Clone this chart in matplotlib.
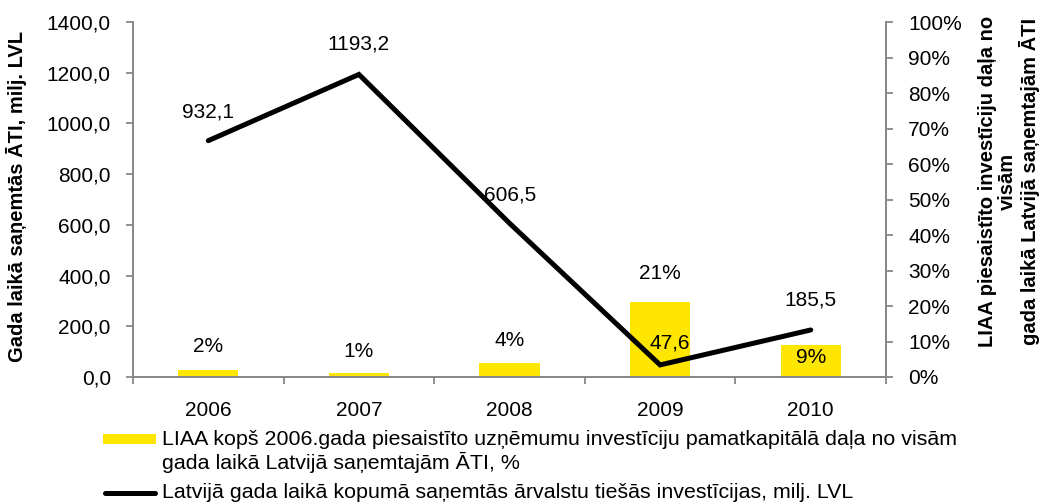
import matplotlib
matplotlib.use("Agg")
import matplotlib.pyplot as plt
from matplotlib.patches import Rectangle
from matplotlib.lines import Line2D

plt.rcParams['font.family'] = ['Liberation Sans', 'DejaVu Sans']

years = ["2006", "2007", "2008", "2009", "2010"]
fdi_total = [932.1, 1193.2, 606.5, 47.6, 185.5]     # milj. LVL, left axis
liaa_share = [2, 1, 4, 21, 9]                        # %, right axis

bar_label = "LIAA kopš 2006.gada piesaistīto uzņēmumu investīciju pamatkapitālā daļa no visām\ngada laikā Latvijā saņemtajām ĀTI, %"
line_label = "Latvijā gada laikā kopumā saņemtās ārvalstu tiešās investīcijas, milj. LVL"
left_title = "Gada laikā saņemtās ĀTI, milj. LVL"
right_title = "LIAA piesaistīto investīciju daļa no\nvisām\ngada laikā Latvijā saņemtajām ĀTI"

# label offsets in pixels (Excel put them a bit irregularly)
line_offsets = [(0, 29), (0, 30), (1, 28), (10, 22), (0, 30)]
bar_offsets = [(0, 23), (0, 22), (0, 22), (0, 29), (0, -12)]

YELLOW = "#FFE600"
GREY = "#888888"
FS = 15
W, H = 1048, 504

fig = plt.figure(figsize=(W / 100, H / 100), dpi=100)
ax = fig.add_axes([133 / W, 1 - 377 / H, 753 / W, 355 / H])
ax2 = ax.twinx()

x = list(range(len(years)))

# bars on the right (percent) axis, drawn behind the line
ax2.bar(x, liaa_share, width=0.4, color=YELLOW, zorder=1)
ax2.set_ylim(0, 100)
ax2.set_yticks(range(0, 101, 10))
ax2.set_yticklabels([f"{v}%" for v in range(0, 101, 10)], fontsize=FS)

for xi, v, off in zip(x, liaa_share, bar_offsets):
    ax2.annotate(f"{v}%", (xi, v), xytext=off, textcoords='offset pixels',
                 ha='center', va='center', fontsize=FS, zorder=5)

# line on the left axis, on top of the bars
ax.set_zorder(ax2.get_zorder() + 1)
ax.patch.set_visible(False)
ax.plot(x, fdi_total, color='black', lw=3.6, solid_capstyle='round',
        solid_joinstyle='miter', zorder=3)
ax.set_ylim(0, 1400)
ax.set_yticks(range(0, 1401, 200))
ax.set_yticklabels([f"{v},0" for v in range(0, 1401, 200)], fontsize=FS)

for xi, v, off in zip(x, fdi_total, line_offsets):
    ax.annotate(f"{v:.1f}".replace(".", ","), (xi, v), xytext=off,
                textcoords='offset pixels', ha='center', va='center', fontsize=FS)

ax.set_xlim(-0.5, len(years) - 0.5)
ax.set_xticks(x)
ax.set_xticklabels(years, fontsize=FS)
ax.tick_params(axis='x', length=0, pad=17)
ax.set_xticks([i - 0.5 for i in range(len(years) + 1)], minor=True)
ax.tick_params(axis='x', which='minor', length=5, color=GREY, width=1.3)

for a in (ax, ax2):
    a.spines['top'].set_visible(False)
    for s in ('left', 'right', 'bottom'):
        a.spines[s].set_color(GREY)
        a.spines[s].set_linewidth(1.3)
    a.tick_params(axis='y', length=5, color=GREY, width=1.3, pad=11)

# axis titles placed like in the original
fig.text(17 / W, 1 - 196 / H, left_title, rotation=90, ha='center', va='center',
         fontsize=14.5, fontweight='bold')
fig.text(1009 / W, 1 - 181 / H, right_title, rotation=90, ha='center', va='center',
         fontsize=14.5, fontweight='bold', linespacing=1.08, multialignment='center')

# legend drawn by hand (Excel style, handle aligned with first text line)
fig.patches.append(Rectangle((103 / W, 1 - 444 / H), 53 / W, 10 / H,
                             transform=fig.transFigure, facecolor=YELLOW,
                             edgecolor='none'))
fig.text(162 / W, 1 - 430 / H, bar_label, ha='left', va='top',
         fontsize=15.4, linespacing=1.16)
fig.lines.append(Line2D([105 / W, 155 / W], [1 - 493 / H, 1 - 493 / H],
                        transform=fig.transFigure, color='black', lw=3.6,
                        solid_capstyle='round'))
fig.text(162 / W, 1 - 493 / H, line_label, ha='left', va='center', fontsize=15.4)

fig.savefig("out.png", dpi=100)
